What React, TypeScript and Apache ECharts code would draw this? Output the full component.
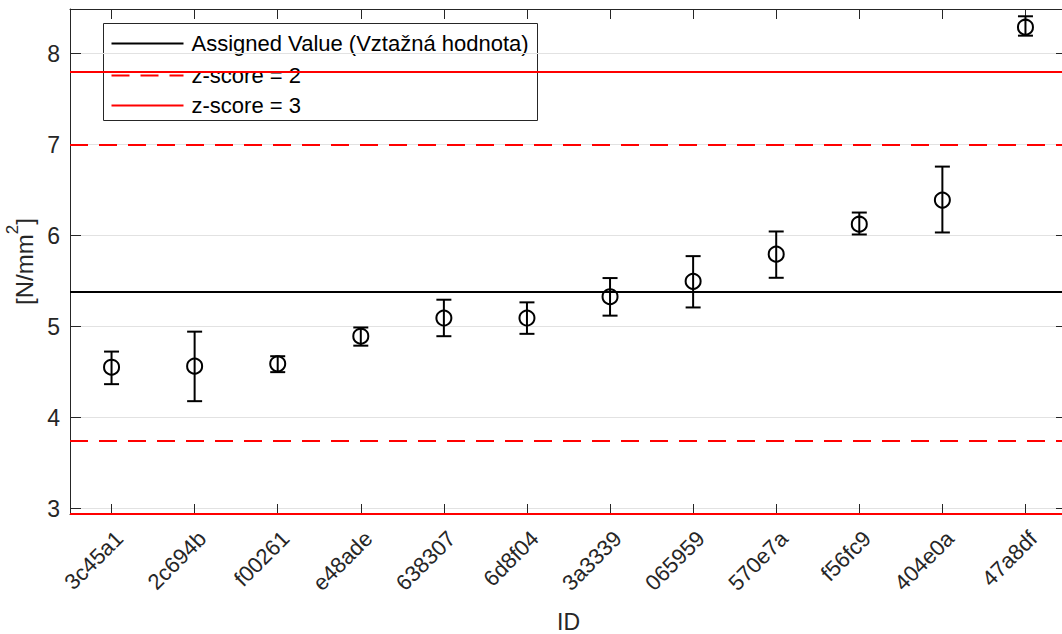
import React, { useEffect, useRef } from "react";
import * as echarts from "echarts";

const categories = ["3c45a1", "2c694b", "f00261", "e48ade", "638307", "6d8f04", "3a3339", "065959", "570e7a", "f56fc9", "404e0a", "47a8df"];
const means = [4.553, 4.565, 4.59, 4.894, 5.094, 5.094, 5.328, 5.497, 5.796, 6.125, 6.39, 8.29];
const lows = [4.367, 4.18, 4.499, 4.79, 4.894, 4.92, 5.12, 5.21, 5.536, 6.012, 6.034, 8.197];
const highs = [4.725, 4.944, 4.674, 4.99, 5.295, 5.266, 5.533, 5.774, 6.045, 6.253, 6.758, 8.41];
const assignedValue = 5.375;
const z2Lines = [7.0, 3.755];
const z3Lines = [7.805, 2.945];
const yMin = 2.94;
const yMax = 8.49;
const legendLabels = ["Assigned Value (Vztažná hodnota)", "z-score = 2", "z-score = 3"];

const FONT = "'Liberation Sans', Arial, Helvetica, sans-serif";
const AXIS = "#262626";

export default function App() {
  const ref = useRef<HTMLDivElement>(null);
  useEffect(() => {
    if (!ref.current) return;
    const chart = echarts.init(ref.current, null, { renderer: "svg" });
    const errData = categories.map((c, i) => [i, means[i], lows[i], highs[i]]);
    const option: any = {
      animation: false,
      backgroundColor: "#fff",
      textStyle: { fontFamily: FONT },
      grid: { left: 70, right: -5, top: 9, bottom: 120, outerBoundsMode: "none", containLabel: false },
      xAxis: [
        {
          type: "category",
          data: categories,
          position: "bottom",
          boundaryGap: true,
          name: "ID",
          nameLocation: "middle",
          nameGap: 96,
          nameTextStyle: { fontSize: 23, color: AXIS, fontFamily: FONT },
          axisLine: { show: true, lineStyle: { color: AXIS, width: 1 } },
          axisTick: { show: true, inside: true, length: 10, alignWithLabel: true, lineStyle: { color: AXIS } },
          axisLabel: { rotate: 45, fontSize: 22, color: AXIS, margin: 13, verticalAlign: "top", fontFamily: FONT },
          splitLine: { show: false },
        },
        {
          type: "category",
          data: categories,
          position: "top",
          boundaryGap: true,
          axisLine: { show: true, lineStyle: { color: AXIS, width: 1 } },
          axisTick: { show: true, inside: true, length: 10, alignWithLabel: true, lineStyle: { color: AXIS } },
          axisLabel: { show: false },
          splitLine: { show: false },
        },
      ],
      yAxis: [
        {
          type: "value",
          min: yMin,
          max: yMax,
          splitNumber: 5,
          position: "left",
          name: "{a|[N/mm}{s|2}{a|]}",
          nameLocation: "middle",
          nameGap: 34,
          nameRotate: 90,
          nameTextStyle: {
            color: AXIS,
            fontFamily: FONT,
            rich: {
              a: { fontSize: 24, color: AXIS, fontFamily: FONT, lineHeight: 32, verticalAlign: "bottom" },
              s: { fontSize: 17, color: AXIS, fontFamily: FONT, lineHeight: 32, verticalAlign: "top" },
            },
          },
          axisLine: { show: true, lineStyle: { color: AXIS, width: 1 } },
          axisTick: { show: true, inside: true, length: 11, lineStyle: { color: AXIS } },
          axisLabel: {
            fontSize: 23,
            color: AXIS,
            margin: 10,
            fontFamily: FONT,
            showMinLabel: false,
            showMaxLabel: false,
            formatter: (v: number) => (Math.abs(v - Math.round(v)) < 1e-6 ? String(Math.round(v)) : ""),
          },
          splitLine: { show: true, lineStyle: { color: "#e2e2e2", width: 1 } },
        },
        {
          type: "value",
          min: yMin,
          max: yMax,
          splitNumber: 5,
          position: "right",
          axisLine: { show: true, lineStyle: { color: AXIS, width: 1 } },
          axisTick: { show: true, inside: true, length: 11, lineStyle: { color: AXIS } },
          axisLabel: { show: false, showMinLabel: false, showMaxLabel: false },
          splitLine: { show: false },
        },
      ],
      series: [
        {
          type: "line",
          name: "ref",
          data: [],
          xAxisIndex: 0,
          yAxisIndex: 0,
          z: 3,
          markLine: {
            silent: true,
            symbol: "none",
            label: { show: false },
            animation: false,
            data: [
              { yAxis: assignedValue, lineStyle: { color: "#000", width: 2, type: "solid" } },
              ...z2Lines.map((v) => ({ yAxis: v, lineStyle: { color: "#ff0000", width: 2, type: [18, 11] } })),
              ...z3Lines.map((v) => ({ yAxis: v, lineStyle: { color: "#ff0000", width: 2, type: "solid" } })),
            ],
          },
        },
        {
          type: "custom",
          name: "points",
          xAxisIndex: 0,
          yAxisIndex: 0,
          z: 5,
          data: errData,
          renderItem: (params: any, api: any) => {
            const x = api.value(0);
            const c = api.coord([x, api.value(1)]);
            const lo = api.coord([x, api.value(2)]);
            const hi = api.coord([x, api.value(3)]);
            const hw = 7.5;
            const st = { stroke: "#000", lineWidth: 2, fill: "none" };
            return {
              type: "group",
              children: [
                { type: "line", shape: { x1: c[0], y1: lo[1], x2: c[0], y2: hi[1] }, style: st },
                { type: "line", shape: { x1: c[0] - hw, y1: lo[1], x2: c[0] + hw, y2: lo[1] }, style: st },
                { type: "line", shape: { x1: c[0] - hw, y1: hi[1], x2: c[0] + hw, y2: hi[1] }, style: st },
                { type: "circle", shape: { cx: c[0], cy: c[1], r: 7.5 }, style: st },
              ],
            };
          },
        },
      ],
      graphic: [
        {
          type: "group",
          left: 103,
          top: 23,
          z: 100,
          children: [
            { type: "rect", shape: { x: 0, y: 0, width: 434, height: 97 }, style: { fill: "#fff", stroke: AXIS, lineWidth: 1 } },
            { type: "line", shape: { x1: 8, y1: 20, x2: 80, y2: 20 }, style: { stroke: "#000", lineWidth: 2 } },
            { type: "line", shape: { x1: 8, y1: 52, x2: 80, y2: 52 }, style: { stroke: "#ff0000", lineWidth: 2, lineDash: [18, 11] } },
            { type: "line", shape: { x1: 8, y1: 82, x2: 80, y2: 82 }, style: { stroke: "#ff0000", lineWidth: 2 } },
            ...legendLabels.map((t, i) => ({
              type: "text",
              x: 88,
              y: [20, 52, 82][i],
              style: { text: t, fontSize: 22, fontFamily: FONT, fill: "#000", verticalAlign: "middle", align: "left" },
            })),
          ],
        },
      ],
    };
    chart.setOption(option);
    return () => chart.dispose();
  }, []);
  return <div ref={ref} style={{ position: "fixed", left: 0, top: 0, width: 1062, height: 634 }} />;
}
